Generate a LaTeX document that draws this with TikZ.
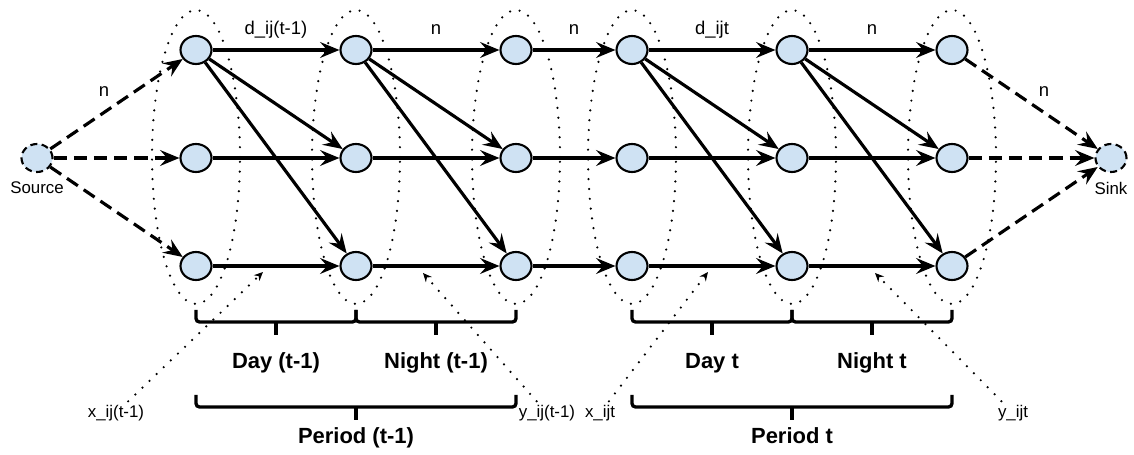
\documentclass[tikz,border=0pt]{standalone}
\usepackage{fontspec}
\setmainfont{Liberation Sans}
\usetikzlibrary{arrows.meta,shapes.geometric}
\definecolor{nodeblue}{RGB}{207,226,243}

\begin{document}
\begin{tikzpicture}[x=0.02cm,y=-0.02cm,
  vertex/.style={ellipse,draw,line width=1.2pt,fill=nodeblue,
    minimum width=0.62cm,minimum height=0.56cm,inner sep=0pt},
  terminal/.style={vertex,dash pattern=on 4pt off 2.5pt},
  group/.style={line width=1.4pt,dash pattern=on 0pt off 5.6pt,line cap=round},
  flow/.style={line width=1.8pt,-{Stealth[length=11pt,width=9pt,inset=4pt]}},
  feed/.style={flow,dash pattern=on 7.5pt off 4pt},
  pointer/.style={group,-{Stealth[length=5pt,width=4.5pt]}},
  brace/.style={line width=1.9pt,rounded corners=2pt},
  elabel/.style={font=\fontsize{10.5}{12}\selectfont},
  tag/.style={font=\fontsize{9.6}{11}\selectfont,inner sep=2pt},
  span/.style={font=\fontsize{12.5}{14}\selectfont\bfseries,anchor=base}]
  \useasboundingbox (0,0) rectangle (1134,455);

  % time slices
  \foreach \x in {196,356,516,632,792,952}
    \draw[group] (\x,157) ellipse [x radius=0.88cm, y radius=2.94cm];

  % network
  \node[terminal,label={[tag,label distance=3pt]below:Source}] (src) at (37,158) {};
  \node[terminal,label={[tag,label distance=3pt]below:Sink}] (snk) at (1111,158) {};
  \foreach \c/\x in {1/196,2/356,3/516,4/632,5/792,6/952}
    \foreach \r/\y in {1/50,2/158,3/266}
      \node[vertex] (v\c\r) at (\x,\y) {};

  \foreach \a/\b/\t in {1/2/d\_ij(t-1),2/3/n,3/4/n,4/5/d\_ijt,5/6/n}{
    \draw[flow] (v\a1) -- node[elabel,anchor=base,yshift=9pt] {\t} (v\b1);
    \draw[flow] (v\a2) -- (v\b2);
    \draw[flow] (v\a3) -- (v\b3);
  }
  \foreach \a/\b in {1/2,2/3,4/5,5/6}{
    \draw[flow] (v\a1) -- (v\b2);
    \draw[flow] (v\a1) -- (v\b3);
  }

  \draw[feed] (src) -- node[elabel,above left] {n} (v11);
  \draw[feed] (src) -- (v12);
  \draw[feed] (src) -- (v13);
  \draw[feed] (v61) -- node[elabel,above right] {n} (snk);
  \draw[feed] (v62) -- (snk);
  \draw[feed] (v63) -- (snk);

  % braces
  \foreach \xa/\xb/\yb in {196/356/310,356/516/310,632/792/310,792/952/310,196/516/395,632/952/395}{
    \draw[brace] (\xa,\yb) -- (\xa,\yb+12) -- (\xb,\yb+12) -- (\xb,\yb);
    \draw[brace] ({(\xa+\xb)/2},\yb+12) -- ({(\xa+\xb)/2},\yb+25);
  }
  \node[span] (dayA) at (276,369) {Day (t-1)};
  \node[span] (nightA) at (436,369) {Night (t-1)};
  \node[span] (periodA) at (356,444) {Period (t-1)};
  \node[span] (dayB) at (712,369) {Day t};
  \node[span] (nightB) at (872,369) {Night t};
  \node[span] (periodB) at (792,444) {Period t};

  % inventory labels
  \node[tag] (xA) at (116,413) {x\_ij(t-1)};
  \node[tag] (yA) at (547,413) {y\_ij(t-1)};
  \node[tag] (xB) at (600,413) {x\_ijt};
  \node[tag] (yB) at (1013,413) {y\_ijt};
  \coordinate (xA-tip) at (263,272);
  \coordinate (yA-tip) at (423,273);
  \coordinate (xB-tip) at (708,272);
  \coordinate (yB-tip) at (875,273);
  \draw[pointer] (xA) -- (xA-tip);
  \draw[pointer] (yA) -- (yA-tip);
  \draw[pointer] (xB) -- (xB-tip);
  \draw[pointer] (yB) -- (yB-tip);
\end{tikzpicture}
\end{document}
